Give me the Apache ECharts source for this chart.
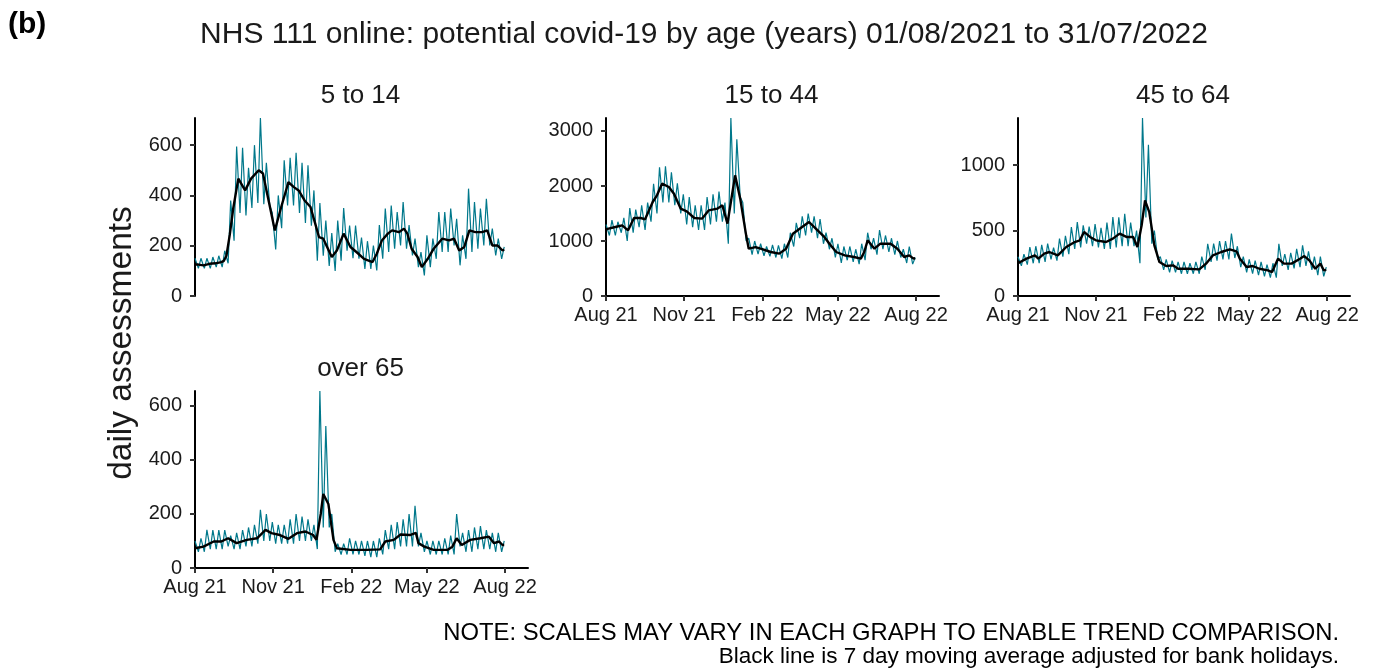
<!DOCTYPE html>
<html><head><meta charset="utf-8">
<script src="https://cdn.jsdelivr.net/npm/echarts@6/dist/echarts.min.js"></script>
<style>html,body{margin:0;padding:0;background:#fff}#c{width:1376px;height:671px}</style>
</head><body><div id="c"></div>
<script>
// ---------------- data ----------------
const startDate = '2021-08-01';          // first day of data (day 0)
const lastDay = 364;                     // 31/07/2022
const axisEndDate = '2022-08-28';
const tickDates = ['2021-08-01', '2021-11-01', '2022-02-01', '2022-05-01', '2022-08-01'];
const tickLabels = ['Aug 21', 'Nov 21', 'Feb 22', 'May 22', 'Aug 22'];
const panelTitles = ['5 to 14', '15 to 44', '45 to 64', 'over 65'];

// weekly peak / trough of the daily series (week 0 starts 01/08/2021)
const high514 = [150,150,150,155,160,180,380,595,590,510,600,708,530,330,400,540,550,570,530,520,420,370,300,250,300,350,280,280,232,218,201,282,348,360,334,374,282,228,175,241,228,334,334,348,307,241,427,374,348,387,268,228,195];
const low514  = [110,110,110,115,115,130,220,330,320,350,370,365,360,185,270,360,360,330,290,280,140,160,120,100,140,180,150,148,108,108,102,148,175,188,201,188,161,115,82,115,148,175,175,201,122,148,175,188,201,201,161,148,135];
const high1544 = [1300,1380,1350,1420,1600,1570,1650,1700,2040,2340,2360,2250,2050,1850,1800,1650,1650,1800,1850,1900,1700,3236,2850,1700,1050,1000,950,900,930,920,950,1150,1330,1450,1500,1450,1400,1150,1050,950,900,900,850,950,1150,1050,1200,1100,1050,1000,850,900,700];
const low1544  = [1100,1100,1150,1000,1150,1250,1200,1350,1500,1700,1700,1650,1500,1300,1250,1200,1200,1300,1350,1350,950,1500,1800,1000,750,760,730,720,700,680,700,900,1050,1100,1150,1050,950,850,700,600,650,620,580,650,850,750,850,800,750,700,600,580,560];
const high4564 = [300,320,374,380,390,400,370,438,460,526,564,540,530,550,520,560,602,600,628,560,500,1359,1155,500,300,280,270,260,260,250,260,300,399,400,420,420,476,380,300,280,270,260,240,250,399,320,330,360,386,340,300,300,220];
const low4564  = [230,240,250,250,260,280,270,300,320,360,370,400,380,370,360,360,370,380,380,380,250,600,400,280,200,180,180,170,170,170,170,200,260,270,280,280,290,220,180,170,160,150,140,140,230,200,210,220,230,200,160,150,130];
const high65 = [100,110,141,140,140,140,120,130,140,150,160,215,200,170,160,160,180,200,190,180,160,655,525,200,90,90,110,100,100,100,100,110,140,160,170,180,200,230,130,100,100,100,110,120,200,130,140,150,155,140,130,130,100];
const low65  = [60,60,70,70,70,80,70,70,80,80,90,100,100,90,90,90,90,100,100,100,70,150,150,60,50,50,50,50,45,40,40,50,70,70,80,80,80,80,60,50,50,50,50,50,80,60,60,70,70,70,60,60,60];

// 7 day moving average: [day since 01/08/2021, value]
const ma514 = [[0,125],[4,125],[10,122],[17,128],[24,130],[31,135],[34,140],[37,160],[41,245],[45,348],[51,467],[59,420],[66,467],[75,500],[80,487],[87,374],[94,261],[102,360],[110,453],[116,434],[122,420],[129,380],[136,354],[141,294],[146,234],[151,228],[161,155],[167,181],[175,248],[183,195],[190,175],[199,148],[209,135],[214,168],[220,221],[227,248],[232,261],[240,254],[246,268],[250,248],[255,188],[262,155],[267,115],[274,148],[281,188],[291,228],[299,221],[305,228],[311,181],[317,195],[323,261],[330,254],[338,254],[344,261],[350,201],[356,201],[362,181],[364,185]];
const ma1544 = [[0,1210],[3,1224],[11,1254],[19,1284],[26,1194],[33,1418],[41,1418],[46,1394],[55,1709],[60,1830],[66,2042],[74,1981],[80,1860],[88,1588],[95,1540],[104,1418],[113,1406],[121,1557],[131,1588],[137,1648],[143,1315],[147,1709],[152,2194],[158,1770],[165,1103],[168,860],[176,890],[182,860],[194,800],[204,770],[212,860],[220,1133],[228,1224],[239,1345],[247,1224],[257,1073],[263,951],[271,800],[281,739],[292,709],[300,679],[304,800],[308,1012],[316,860],[323,951],[335,951],[343,860],[351,709],[357,739],[362,679],[364,690]];
const ma4564 = [[0,250],[2,259],[10,285],[20,310],[24,285],[31,323],[37,336],[47,310],[57,374],[67,412],[73,425],[78,489],[85,451],[92,425],[104,412],[112,438],[120,476],[128,451],[136,451],[141,374],[146,540],[150,730],[155,641],[161,387],[167,259],[175,229],[183,234],[189,208],[201,208],[214,203],[222,247],[230,310],[240,336],[250,356],[258,341],[262,285],[270,221],[277,229],[285,208],[295,196],[300,183],[307,285],[314,247],[323,247],[333,285],[338,305],[344,272],[351,208],[357,247],[361,196],[364,200]];
const ma65 = [[0,73],[2,73],[10,79],[22,98],[31,98],[39,110],[49,92],[61,104],[73,110],[83,141],[90,129],[100,122],[110,108],[120,129],[130,135],[139,122],[143,104],[148,200],[151,274],[157,237],[163,104],[167,73],[183,67],[202,67],[218,69],[224,98],[234,104],[242,124],[253,122],[260,130],[263,92],[270,79],[281,67],[297,67],[303,79],[308,110],[314,85],[324,104],[336,110],[346,116],[352,92],[358,98],[362,85],[364,85]];

const yTicks514 = [0, 200, 400, 600];
const yTicks1544 = [0, 1000, 2000, 3000];
const yTicks4564 = [0, 500, 1000];
const yTicks65 = [0, 200, 400, 600];

// ---------------- build ----------------
const DAY = 86400000;
const t0 = Date.parse(startDate);
const ts = d => t0 + d * DAY;
const tickTs = tickDates.map(d => Date.parse(d));

function rawSeries(high, low) {
  const out = [];
  for (let w = 0; w < high.length; w++) {
    if (7 * w <= lastDay) out.push([ts(7 * w), high[w]]);
    if (7 * w + 4 <= lastDay) out.push([ts(7 * w + 4), low[w]]);
  }
  return out;
}
const panels = [
  { title: panelTitles[0], high: high514, low: low514, ma: ma514, ticks: yTicks514, grid: { left: 195, top: 118, width: 333, height: 178 }, showX: false },
  { title: panelTitles[1], high: high1544, low: low1544, ma: ma1544, ticks: yTicks1544, grid: { left: 606, top: 118, width: 333, height: 178 }, showX: true },
  { title: panelTitles[2], high: high4564, low: low4564, ma: ma4564, ticks: yTicks4564, grid: { left: 1018, top: 118, width: 332, height: 178 }, showX: true },
  { title: panelTitles[3], high: high65, low: low65, ma: ma65, ticks: yTicks65, grid: { left: 195, top: 391, width: 333, height: 177 }, showX: true }
];

const FONT = "'Liberation Sans', Arial, sans-serif";
const TXT = '#1a1a1a';
const grids = [], xAxes = [], yAxes = [], series = [], graphics = [];
panels.forEach((p, i) => {
  grids.push(Object.assign({ containLabel: false }, p.grid));
  xAxes.push({
    type: 'value', gridIndex: i, min: t0, max: Date.parse(axisEndDate), show: p.showX, scale: true,
    splitLine: { show: false },
    axisLine: { show: true, onZero: false, lineStyle: { color: '#000', width: 2 } },
    axisTick: { show: true, customValues: tickTs, length: 5, lineStyle: { color: '#333', width: 2 } },
    axisLabel: {
      customValues: tickTs, margin: 9, color: TXT, fontSize: 20, fontFamily: FONT,
      formatter: v => { const k = tickTs.indexOf(v); return k >= 0 ? tickLabels[k] : ''; }
    }
  });
  const ymax = Math.max.apply(null, p.high);
  yAxes.push({
    type: 'value', gridIndex: i, min: 0, max: ymax,
    splitLine: { show: false },
    axisLine: { show: true, onZero: false, lineStyle: { color: '#000', width: 2 } },
    axisTick: { show: true, customValues: p.ticks, length: 5, lineStyle: { color: '#333', width: 2 } },
    axisLabel: { customValues: p.ticks, margin: 13, color: TXT, fontSize: 20, fontFamily: FONT, formatter: v => String(v) }
  });
  series.push({
    type: 'line', xAxisIndex: i, yAxisIndex: i, data: rawSeries(p.high, p.low),
    showSymbol: false, symbol: 'none', lineStyle: { color: '#00788b', width: 1.2 }, z: 2, silent: true
  });
  series.push({
    type: 'line', xAxisIndex: i, yAxisIndex: i, data: p.ma.map(d => [ts(d[0]), d[1]]),
    showSymbol: false, symbol: 'none', lineStyle: { color: '#000', width: 2.4 }, z: 3, silent: true
  });
  graphics.push({
    type: 'text', x: p.grid.left + p.grid.width / 2 - 1, y: p.grid.top - 22,
    style: { text: p.title, font: '26px ' + FONT, fill: TXT, textAlign: 'center', textVerticalAlign: 'middle' }
  });
});

graphics.push({ type: 'text', x: 8, y: 25, style: { text: '(b)', font: 'bold 30px ' + FONT, fill: '#000', textAlign: 'left', textVerticalAlign: 'middle' } });
graphics.push({ type: 'text', x: 704, y: 35, style: { text: 'NHS 111 online: potential covid-19 by age (years) 01/08/2021 to 31/07/2022', font: '30px ' + FONT, fill: TXT, textAlign: 'center', textVerticalAlign: 'middle' } });
graphics.push({ type: 'text', x: 122, y: 343, rotation: Math.PI / 2, style: { text: 'daily assessments', font: '33.5px ' + FONT, fill: TXT, textAlign: 'center', textVerticalAlign: 'middle' } });
graphics.push({ type: 'text', x: 1339, y: 633, style: { text: 'NOTE: SCALES MAY VARY IN EACH GRAPH TO ENABLE TREND COMPARISON.', font: '23.8px ' + FONT, fill: '#000', textAlign: 'right', textVerticalAlign: 'middle' } });
graphics.push({ type: 'text', x: 1339, y: 657, style: { text: 'Black line is 7 day moving average adjusted for bank holidays.', font: '22.5px ' + FONT, fill: '#000', textAlign: 'right', textVerticalAlign: 'middle' } });

const chart = echarts.init(document.getElementById('c'), null, { renderer: 'canvas' });
chart.setOption({
  animation: false, backgroundColor: '#fff',
  grid: grids, xAxis: xAxes, yAxis: yAxes, series: series, graphic: graphics
});
</script></body></html>
